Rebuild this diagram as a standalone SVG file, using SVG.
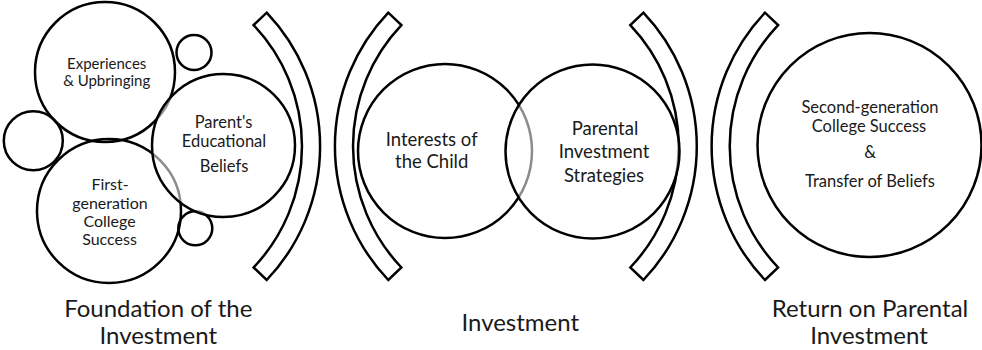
<svg xmlns="http://www.w3.org/2000/svg" width="982" height="350" viewBox="0 0 982 350">
  <style>
    .c { fill: none; stroke: #000; stroke-width: 2.5; }
    .cover { fill: #fff; fill-opacity: 0.55; stroke: #000; stroke-width: 2.5; }
    .br { fill: none; stroke: #000; stroke-width: 2.5; stroke-linejoin: miter; }
    text { font-family: Lato, "Liberation Sans", sans-serif; fill: #1a1a1a; text-anchor: middle; }
    .s1 { font-size: 15px; }
    .s2 { font-size: 16.5px; }
    .s2b { font-size: 16px; }
    .s3 { font-size: 18.5px; }
    .s4 { font-size: 24px; }
  </style>
  <defs>
    <path id="brR" d="M 266.7 12.7 A 194 194 0 0 1 266.7 280 L 253.6 267.5 A 176 176 0 0 0 253.6 25.1 Z"/>
    <path id="brL" d="M 388.3 12.7 A 194 194 0 0 0 388.3 280 L 401.4 267.5 A 176 176 0 0 1 401.4 25.1 Z"/>
  </defs>

  <g id="brackets">
    <use href="#brR" class="br"/>
    <use href="#brL" class="br"/>
    <use href="#brR" class="br" transform="translate(376.7,0)"/>
    <use href="#brL" class="br" transform="translate(376.7,0)"/>
  </g>

  <g id="small-circles">
    <circle class="c" cx="194" cy="52.5" r="17.5"/>
    <circle class="c" cx="33.3" cy="140.8" r="29.5"/>
    <circle class="c" cx="195.3" cy="228.3" r="17"/>
  </g>

  <g id="experiences">
    <circle class="c" cx="105" cy="72" r="70"/>
    <text class="s1" x="106.7" y="68.5">Experiences</text>
    <text class="s1" x="106.7" y="86">&amp; Upbringing</text>
  </g>

  <g id="first-generation">
    <circle class="c" cx="109" cy="211" r="72"/>
    <text class="s2b" x="110" y="190">First-</text>
    <text class="s2b" x="110" y="209">generation</text>
    <text class="s2b" x="109.5" y="227">College</text>
    <text class="s2b" x="109.5" y="245">Success</text>
  </g>

  <g id="parents-beliefs">
    <circle class="cover" cx="223.5" cy="145.5" r="71.5"/>
    <text class="s2" x="223.5" y="128.3">Parent's</text>
    <text class="s2" x="224" y="146.7">Educational</text>
    <text class="s2" x="224" y="171.7">Beliefs</text>
  </g>

  <g id="interests">
    <circle class="c" cx="445" cy="151" r="87"/>
    <text class="s3" x="431.7" y="146">Interests of</text>
    <text class="s3" x="431.7" y="167.7">the Child</text>
  </g>

  <g id="strategies">
    <circle class="cover" cx="592.5" cy="151.5" r="87"/>
    <text class="s3" x="605" y="135">Parental</text>
    <text class="s3" x="604" y="158.3">Investment</text>
    <text class="s3" x="604" y="181.7">Strategies</text>
  </g>

  <g id="return">
    <circle class="c" cx="869.5" cy="145" r="112"/>
    <text class="s2" x="870" y="113">Second-generation</text>
    <text class="s2" x="869" y="131.5">College Success</text>
    <text class="s2" x="870" y="158.3">&amp;</text>
    <text class="s2" x="870" y="186.7">Transfer of Beliefs</text>
  </g>

  <g id="labels">
    <text class="s4" x="158.3" y="316.7">Foundation of the</text>
    <text class="s4" x="158.3" y="344">Investment</text>
    <text class="s4" x="520.3" y="330.7">Investment</text>
    <text class="s4" x="870" y="316.7">Return on Parental</text>
    <text class="s4" x="869" y="344">Investment</text>
  </g>
</svg>
